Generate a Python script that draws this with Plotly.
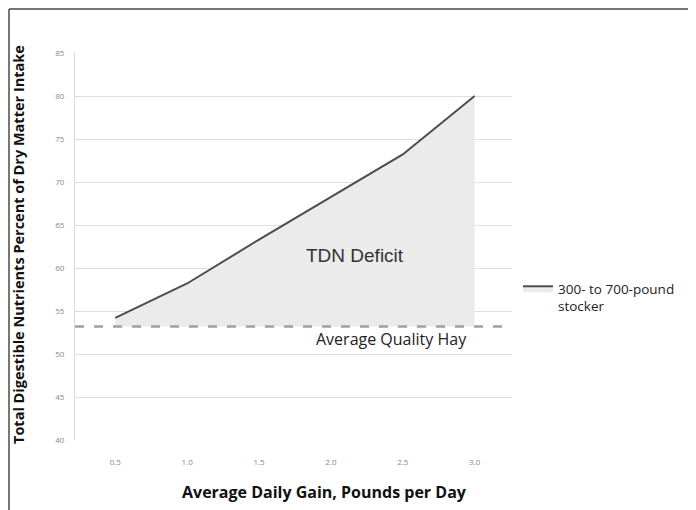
import plotly.graph_objects as go

# Data
adg = [0.5, 1.0, 1.5, 2.0, 2.5, 3.0]                 # Average daily gain, lb/day
tdn_required = [54.2, 58.2, 63.3, 68.2, 73.2, 80.0]  # 300- to 700-pound stocker
hay_tdn = 53.2                                       # Average quality hay
x_ticks = [0.5, 1.0, 1.5, 2.0, 2.5, 3.0]
x_tick_labels = ["0.5", "1.0", "1.5", "2.0", "2.5", "3.0"]
y_ticks = [40, 45, 50, 55, 60, 65, 70, 75, 80, 85]

W, H = 696, 510
ml, mr, mt, mb = 67, 192, 45, 78
pw, ph = W - ml - mr, H - mt - mb

def px_x(p):
    return (p - ml) / pw

def px_y(p):
    return (H - mb - p) / ph

fig = go.Figure()
fig.add_trace(go.Scatter(
    x=adg, y=[hay_tdn] * len(adg), mode="lines",
    line=dict(width=0, color="rgba(0,0,0,0)"), showlegend=False, hoverinfo="skip"))
fig.add_trace(go.Scatter(
    x=adg, y=tdn_required, mode="lines", fill="tonexty", fillcolor="#ebebeb",
    line=dict(color="#4d4d4d", width=2),
    name="300- to 700-pound<br>stocker"))

# Average quality hay dashed line
fig.add_shape(type="line", xref="paper", yref="y", x0=0, x1=1, y0=hay_tdn, y1=hay_tdn,
              line=dict(color="#a0a0a0", width=2.5, dash="9px,10px"), layer="above")

# Figure border (top and left)
fig.add_shape(type="line", xref="paper", yref="paper",
              x0=px_x(1), x1=px_x(W + 5), y0=px_y(1), y1=px_y(1),
              line=dict(color="#4a4a4a", width=1.5))
fig.add_shape(type="line", xref="paper", yref="paper",
              x0=px_x(1), x1=px_x(1), y0=px_y(1), y1=px_y(H + 5),
              line=dict(color="#4a4a4a", width=1.5))

fig.add_annotation(text="TDN Deficit", x=2.17, y=61.5, xref="x", yref="y",
                   showarrow=False, font=dict(family="Liberation Sans", size=19, color="#333333"))
fig.add_annotation(text="Average Quality Hay", x=2.42, y=hay_tdn, xref="x", yref="y",
                   yanchor="top", yshift=0, showarrow=False,
                   font=dict(family="Open Sans", size=16, color="#222222"))

# Axis titles
fig.add_annotation(text="<b>Average Daily Gain, Pounds per Day</b>",
                   xref="paper", yref="paper", x=px_x(316), y=px_y(484),
                   xanchor="center", yanchor="middle", showarrow=False,
                   font=dict(family="Open Sans", size=16, color="#111111"))
fig.add_annotation(text="<b>Total Digestible Nutrients Percent of Dry Matter Intake</b>",
                   xref="paper", yref="paper", x=px_x(10), y=px_y(237),
                   xanchor="center", yanchor="middle", textangle=-90, showarrow=False,
                   font=dict(family="Open Sans", size=14.5, color="#111111"))

fig.update_layout(
    width=W, height=H,
    margin=dict(l=ml, r=mr, t=mt, b=mb),
    paper_bgcolor="white", plot_bgcolor="white",
    font=dict(family="Open Sans", color="#222222"),
    legend=dict(x=px_x(510), y=px_y(265), xanchor="left", yanchor="top",
                valign="top", itemwidth=30, tracegroupgap=0,
                font=dict(family="Open Sans", size=13.5, color="#222222"),
                bgcolor="rgba(0,0,0,0)"),
    xaxis=dict(range=[0.22, 3.26], tickvals=x_ticks, ticktext=x_tick_labels,
               showgrid=False, zeroline=False, showline=False,
               tickfont=dict(size=8, color="#888888"),
               ticks="outside", ticklen=14, tickcolor="rgba(0,0,0,0)"),
    yaxis=dict(range=[40, 85], tickvals=y_ticks, showgrid=True, gridcolor="#dedede",
               gridwidth=1, zeroline=False, showline=True, linecolor="#d8d8d8", linewidth=1,
               tickfont=dict(size=8, color="#888888"),
               ticks="outside", ticklen=8, tickcolor="rgba(0,0,0,0)"),
)

fig.write_html("out.html")
